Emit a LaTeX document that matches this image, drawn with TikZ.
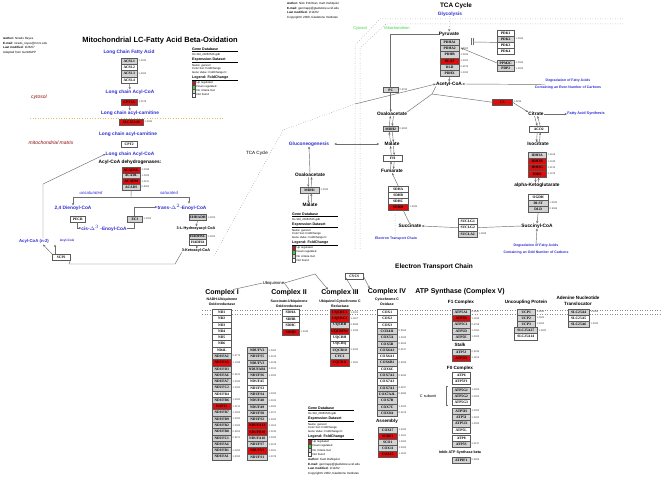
\documentclass[tikz,border=0pt]{standalone}
\usepackage{fontspec}
\setmainfont{Liberation Sans}
\newfontfamily\genefont{Liberation Serif}
\usetikzlibrary{arrows.meta}
\definecolor{myblue}{RGB}{45,45,210}
\definecolor{mydred}{RGB}{140,10,10}
\definecolor{mygreen}{RGB}{60,210,60}
\definecolor{fillr}{RGB}{222,12,12}
\definecolor{fillg}{RGB}{210,210,210}
\definecolor{fillw}{RGB}{255,255,255}
\definecolor{lincol}{RGB}{110,110,110}
\definecolor{dotorange}{RGB}{240,180,100}
\tikzset{
  lbl/.style={inner sep=0pt, font=\bfseries\fontsize{4.8}{5.5}\selectfont},
  blbl/.style={lbl, text=myblue},
  slbl/.style={inner sep=0pt, font=\bfseries\fontsize{3.5}{4.6}\selectfont, align=center},
  gene/.style={draw=black!65, line width=0.4pt, inner sep=0pt, font=\genefont\bfseries\fontsize{3.6}{4}\selectfont},
  val/.style={inner sep=0pt, anchor=west, font=\fontsize{2.5}{3}\selectfont, text=black!75},
  arr/.style={draw=lincol, line width=0.45pt, -{Stealth[length=2.6pt,width=2.2pt]}},
  darr/.style={draw=lincol, line width=0.45pt, {Stealth[length=2.6pt,width=2.2pt]}-{Stealth[length=2.6pt,width=2.2pt]}},
  ln/.style={draw=lincol, line width=0.45pt},
  dotln/.style={draw=black!45, line width=0.5pt, dotted},
  ttl/.style={inner sep=0pt, font=\bfseries\fontsize{7}{8}\selectfont},
  sttl/.style={inner sep=0pt, font=\bfseries\fontsize{4.6}{5}\selectfont},
  auth/.style={inner sep=0pt, anchor=north west, align=left, font=\fontsize{3}{4.4}\selectfont},
  leg/.style={inner sep=0pt, anchor=west, font=\fontsize{2.8}{3}\selectfont},
  legb/.style={inner sep=0pt, anchor=west, font=\bfseries\fontsize{3.6}{4}\selectfont},
  comp/.style={lbl, text=mydred, font=\itshape\fontsize{5}{6}\selectfont},
}
\newcommand\gstack[6]{%
  \foreach \gn/\gf/\gv [count=\gi] in {#6}{%
    \node[gene, fill=fill\gf, minimum width=#4pt, minimum height=#5pt, anchor=north west]
      (#1-\gn) at (#2, {#3+(\gi-1)*#5}) {\gn};
    \node[val] (#1-v\gi) at ({#2+#4+1.5}, {#3+(\gi-0.5)*#5}) {\gv};
  }}
\newcommand\legendblock[3]{%
 \begin{scope}[shift={(#2,#3)}]
  \node[legb] (#1-gd) at (0,0) {Gene Database};
  \draw[line width=0.5pt] (0,2.3) -- (46,2.3);
  \node[leg] (#1-db) at (0,5.5) {Hs-Std\_20060526.gdb};
  \node[legb] (#1-ed) at (0,11) {Expression Dataset};
  \draw[line width=0.5pt] (0,13.3) -- (46,13.3);
  \node[leg] (#1-n) at (0,16.5) {Name: genes3};
  \node[leg] (#1-cs) at (0,20) {Color Set: FoldChange};
  \node[leg] (#1-gv) at (0,23.5) {Gene Value: FoldChange fc};
  \node[legb] (#1-lg) at (0,29) {Legend: FoldChange};
  \draw[line width=0.5pt] (0,31.3) -- (46,31.3);
  \foreach \c/\t [count=\k] in {fillr/Up regulated, mygreen/Down regulated, fillg/No criteria met, white/Not found}{
    \node[draw=black!70, line width=0.3pt, fill=\c, minimum width=3.5pt, minimum height=3.5pt, inner sep=0pt] (#1-s\k) at (1.8, {30+4*\k}) {};
    \node[leg] (#1-t\k) at (4.5, {30+4*\k}) {\t};
  }
 \end{scope}}
\begin{document}
\begin{tikzpicture}[x=1pt,y=-1pt]
\useasboundingbox[fill=white] (0,0) rectangle (661,481);

% ---------------- authors and legends
\node[auth] (au1) at (3,37.5) {\textbf{Author:} Nirado Reyes\\\textbf{E-mail:} nirado\_reyes@nmrc.edu\\\textbf{Last modified:} 9/26/07\\Adapted from GenMAPP};
\node[auth] (au2) at (287,2.5) {\textbf{Author:} Nick Pohlman, Kam Dahlquist\\\textbf{E-mail:} genmapp@gladstone.ucsf.edu\\\textbf{Last modified:} 2/14/02\\Copyright\textcopyright{} 2000, Gladstone Institutes};
\node[auth] (au3) at (308,458.5) {\textbf{Author:} Kam Dahlquist\\\textbf{E-mail:} genmapp@gladstone.ucsf.edu\\\textbf{Last modified:} 2/14/02\\Copyright\textcopyright{} 2002, Gladstone Institutes};
\legendblock{lg1}{192}{49}
\legendblock{lg2}{292}{214}
\legendblock{lg3}{308}{408}

% ---------------- beta oxidation
\node[ttl, font=\bfseries\fontsize{7.5}{8}\selectfont] (t1) at (160,41) {Mitochondrial LC-Fatty Acid Beta-Oxidation};
\node[blbl] (lcfa) at (129,52) {Long Chain Fatty Acid};
\gstack{acsl}{121}{58}{16}{6.25}{ACSL1/g/1.0020, ACSL2/w/{}, ACSL3/g/1.0000, ACSL4/w/{}}
\node[blbl] (lcac1) at (130,92) {Long chain Acyl-CoA};
\draw[arr] (acsl-ACSL4.south) -- (lcac1.north);
\node[comp] (cyto) at (39,97) {cytosol};
\gstack{cpt1}{121}{99}{16}{5.6}{CPT1A/r/1.0078}
\node[blbl] (lcar1) at (130,113) {Long chain acyl-carnitine};
\draw[arr] (cpt1-CPT1A.south) -- (lcar1.north);
\draw[draw=dotorange, line width=0.6pt, dotted] (30,118) -- (225,118);
\gstack{slc}{119}{119}{24}{5.6}{SLC25A20/r/1.0094}
\node[blbl] (lcar2) at (128,134) {Long chain acyl-carnitine};
\node[comp] (mmx) at (51,143) {mitochondrial matrix};
\gstack{cpt2}{121}{141}{16}{5.6}{CPT2/w/{}}
\node[blbl] (lcac2) at (130,154) {Long chain Acyl-CoA};
\node[lbl] (acd) at (130,162) {Acyl-CoA dehydrogenases:};
\gstack{acad}{122}{167}{18}{5.75}{ACADVL/r/1.0088, ACADL/g/1.0000, ACADM/r/1.0221, ACADS/g/0.9954}
\node[inner sep=0pt, text=myblue, font=\itshape\fontsize{4.3}{5}\selectfont] (unsat) at (91,193) {unsaturated};
\node[inner sep=0pt, text=myblue, font=\itshape\fontsize{4.3}{5}\selectfont] (sat) at (169,193) {saturated};
\node[blbl] (dien) at (73,208) {2,4 Dienoyl-CoA};
\node[blbl] (trans) at (182,207) {trans-$\Delta^2$-Enoyl-CoA};
\coordinate (sp1) at (131,197);
\draw[ln] (acad-ACADS.south) -- (sp1);
\draw[arr] (sp1) -| (dien.north);
\draw[arr] (sp1) -| ([xshift=7pt]trans.north);
\gstack{pecr}{70}{216}{15}{5.6}{PECR/w/{}}
\node[blbl] (cis) at (104,228) {cis-$\Delta^3$ -Enoyl-CoA};
\gstack{eci}{127}{216}{15}{5.6}{ECI/g/1.0000}
\draw[arr] (pecr-PECR.south) |- (cis.west);
\draw[ln] (cis.east) -| (eci-ECI.south);
\draw[arr] (eci-ECI.north) |- (trans.west);
\gstack{ehh}{189}{214.5}{17}{5.6}{EHHADH/g/1.0000}
\node[lbl, font=\bfseries\fontsize{3.8}{4}\selectfont] (hyd) at (196,228.5) {3-L-Hydroxyacyl-CoA};
\draw[arr] (ehh-EHHADH.south) -- (hyd.north);
\gstack{hadh}{189}{233.5}{17}{5.6}{HADHSC/g/1.0000, HADHA/w/{}}
\node[lbl, font=\bfseries\fontsize{3.8}{4}\selectfont] (keto) at (196,250.5) {3-Ketoacyl-CoA};
\draw[arr] (hadh-HADHA.south) -- (keto.north);
\gstack{scp}{52}{254}{18}{6}{SCP2/w/{}}
\node[blbl, font=\bfseries\fontsize{4.3}{5}\selectfont] (an2) at (34,241) {Acyl-CoA (n-2)};
\node[blbl, font=\bfseries\fontsize{3.2}{4}\selectfont] (acoa) at (67,241) {Acyl-CoA};
\coordinate (kk1) at (175,264);
\coordinate (kk2) at (69,264);
\draw[ln] (keto.south west) -- (kk1) -- (kk2) -- (scp-SCP2.south east);
\coordinate (an2t) at (43,244.5);
\coordinate (acoat) at (55,244.5);
\draw[arr] (scp-SCP2.north west) -- (an2t);
\draw[arr] ([xshift=3pt]scp-SCP2.north west) -- (acoat);
\coordinate (an2u) at (43,238);
\coordinate (an2c) at (43,184);
\draw[arr] (an2u) -- (an2c) -- (lcac2.west);
\coordinate (tp1) at (214,256);
\coordinate (tp2) at (283,130);
\coordinate (tp3) at (355,104);
\draw[dotln] (tp1) -- (tp2) -- (tp3);
\node[inner sep=0pt, font=\fontsize{4.6}{5}\selectfont] (tcal) at (257,153) {TCA Cycle};

% ---------------- mitochondrion boundary
\draw[dotln] (623,19) -- (380,19) -- (355,45) -- (355,250);
\draw[dotln] (623,24) -- (386,24) -- (360,48) -- (360,250);
\node[inner sep=0pt, text=mygreen, font=\fontsize{4}{5}\selectfont] (cytl) at (360,28) {Cytosol};
\node[inner sep=0pt, text=mygreen, font=\fontsize{4}{5}\selectfont] (mitl) at (397,28) {Mitochondrion};

% ---------------- TCA
\node[ttl, font=\bfseries\fontsize{6.4}{7}\selectfont] (tca) at (456,6) {TCA Cycle};
\node[blbl] (gly) at (450,14) {Glycolysis};
\node[lbl] (pyr) at (449,34) {Pyruvate};
\draw[arr, dotted] (gly) -- (pyr);
\gstack{pdh}{440}{39}{19}{6.2}{PDHA1/g/{}, PDHA2/g/1.0000, PDHB/g/1.0000, DLAT/r/1.0001, DLD/g/0.9976, PDHX/g/1.0000}
\node[lbl] (acc) at (449,84) {Acetyl-CoA};
\draw[arr] (pdh-PDHX.south) -- (acc.north);
\draw[arr] (tp3) -- (acc.west);
\gstack{pdk}{497}{30}{17}{6}{PDK1/w/{}, PDK2/g/1.0000, PDK3/w/{}, PDK4/w/{}}
\gstack{pdp}{497}{60}{17}{5.5}{PPM2C/g/1.0000, PDP2/g/1.0000}
\coordinate (bar1) at (473,42);
\draw[ln] (pdk-PDK2.south west) -- (bar1);
\draw[ln] (471,38.5) -- (471,45.5) (473,38.5) -- (473,45.5);
\coordinate (pdpt) at (461,48);
\draw[arr] (pdp-PPM2C.west) -- (pdpt);
\node[blbl, font=\bfseries\fontsize{3.5}{7}\selectfont, align=center] (even) at (568,84.5) {Degradation of Fatty Acids\\Containing an Even Number of Carbons};
\coordinate (evenl) at (545,84.5);
\draw[arr] (evenl) -- (acc.east);
\gstack{cs}{492}{99}{20}{6}{CS/r/1.0296}
\node[lbl] (oaa) at (392,114) {Oxaloacetate};
\node[lbl] (cit) at (536,114) {Citrate};
\coordinate (j1) at (432,94);
\draw[ln] (oaa.north east) -- (j1) -- (cs-CS.west);
\draw[ln] (acc.south west) -- (j1);
\draw[arr] (cs-CS.east) -- (cit.north west);
\node[blbl, font=\bfseries\fontsize{3.8}{4}\selectfont] (fas) at (586,114) {Fatty Acid Synthesis};
\draw[arr] (cit.east) -- (fas.west);
\gstack{aco}{529}{126}{19}{6}{ACO2/w/{}}
\draw[arr] ([xshift=-1.5pt]cit.south) -- ([xshift=-1.5pt]aco-ACO2.north);
\draw[arr] ([xshift=1.5pt]aco-ACO2.north) -- ([xshift=1.5pt]cit.south);
\node[lbl] (iso) at (538,144) {Isocitrate};
\draw[arr] ([xshift=-1.5pt]aco-ACO2.south) -- ([xshift=-1.5pt]iso.north);
\draw[arr] ([xshift=1.5pt]iso.north) -- ([xshift=1.5pt]aco-ACO2.south);
\gstack{idh}{528}{152}{18}{6.25}{IDH3A/g/1.0016, IDH3B/r/1.1349, IDH3G/r/1.0132, IDH2/r/1.1076}
\node[lbl] (akg) at (537,185) {alpha-Ketoglutarate};
\draw[arr] ([xshift=-1.5pt]idh-IDH2.south) -- ([xshift=-1.5pt]akg.north);
\draw[arr] ([xshift=1.5pt]akg.north) -- ([xshift=1.5pt]idh-IDH2.south);
\gstack{ogd}{528}{194}{20}{6}{OGDH/w/{}, DLST/g/1.0000, DLD/g/0.9966}
\node[lbl] (succoa) at (537,226) {Succinyl-CoA};
\draw[arr] (ogd-DLD.south) -- (succoa.north);
\node[blbl, font=\bfseries\fontsize{3.5}{7}\selectfont, align=center] (odd) at (536,249.5) {Degradation of Fatty Acids\\Containing an Odd Number of Carbons};
\draw[arr] (odd.north) -- (succoa.south);
\gstack{suc}{458}{218}{19}{6.3}{SUCLG1/w/{}, SUCLG2/w/{}, SUCLA2/g/1.0008}
\node[lbl] (succ) at (410,226) {Succinate};
\draw[ln] (succoa.west) -- (suc-SUCLG2.east);
\draw[arr] (suc-SUCLG2.west) -- (succ.east);
\gstack{sdh}{388}{186}{20}{6}{SDHA/w/{}, SDHB/w/{}, SDHC/w/{}, SDHD/r/1.0045}
\node[lbl] (fum) at (392,171) {Fumarate};
\draw[ln] (succ.north) -- ([xshift=5pt]sdh-SDHD.south);
\draw[arr] (sdh-SDHA.north) -- (fum.south);
\node[blbl, font=\bfseries\fontsize{3.5}{4}\selectfont] (etcl) at (396,239) {Electron Transport Chain};
\draw[dotln] ([xshift=-3pt]sdh-SDHD.south) -- ([xshift=-1pt]etcl.north);
\gstack{fh}{383}{155}{19}{6}{FH/w/{}}
\node[lbl] (mal) at (392,144) {Malate};
\draw[arr] ([xshift=-1.5pt]fum.north) -- ([xshift=-1.5pt]fh-FH.south);
\draw[arr] ([xshift=1.5pt]fh-FH.south) -- ([xshift=1.5pt]fum.north);
\draw[arr] ([xshift=-1.5pt]fh-FH.north) -- ([xshift=-1.5pt]mal.south);
\draw[arr] ([xshift=1.5pt]mal.south) -- ([xshift=1.5pt]fh-FH.north);
\gstack{mdh}{383}{126}{15}{5.5}{MDH2/g/0.9990}
\draw[arr] ([xshift=-1.5pt]mal.north) -- ([xshift=-1.5pt]mdh-MDH2.south);
\draw[arr] ([xshift=1.5pt]mdh-MDH2.south) -- ([xshift=1.5pt]mal.north);
\draw[arr] ([xshift=-1.5pt]mdh-MDH2.north) -- ([xshift=-1.5pt]oaa.south);
\draw[arr] ([xshift=1.5pt]oaa.south) -- ([xshift=1.5pt]mdh-MDH2.north);
\gstack{pc}{383}{87}{15}{5.5}{PC/g/0.9766}
\draw[ln] (pyr.west) -| (pc-PC.north);
\draw[arr] (pc-PC.south) -- (oaa.north -| pc-PC.south);
\node[blbl] (gng) at (309,144) {Gluconeogenesis};
\draw[darr] ([xshift=-5pt]mal.west) -- ([xshift=5pt]gng.east);
\node[lbl] (oaa2) at (310,175) {Oxaloacetate};
\draw[arr] (oaa2.north) -- (gng.south);
\gstack{mdh1}{300}{187}{19}{6}{MDH1/g/1.0000}
\node[lbl] (mal2) at (310,205) {Malate};
\draw[arr] ([xshift=-1.5pt]oaa2.south) -- ([xshift=-1.5pt]mdh1-MDH1.north);
\draw[arr] ([xshift=1.5pt]mdh1-MDH1.north) -- ([xshift=1.5pt]oaa2.south);
\draw[arr] ([xshift=-1.5pt]mdh1-MDH1.south) -- ([xshift=-1.5pt]mal2.north);
\draw[arr] ([xshift=1.5pt]mal2.north) -- ([xshift=1.5pt]mdh1-MDH1.south);

% ---------------- electron transport chain
\node[ttl, font=\bfseries\fontsize{6.5}{7}\selectfont] (etc) at (434,267) {Electron Transport Chain};
\draw[dotln] (202,310) -- (661,310);
\draw[dotln] (202,314) -- (661,314);
\gstack{cyc}{345}{273}{18}{6}{CYCS/w/{}}
\node[inner sep=0pt, font=\fontsize{4.2}{5}\selectfont] (ubq) at (273.5,283) {Ubiquinone};
\node[ttl] (c1) at (222,293) {Complex I};
\node[slbl] (c1s) at (222,301.5) {NADH-Ubiquinone\\Oxidoreductase};
\node[ttl] (c2) at (289,293) {Complex II};
\node[slbl] (c2s) at (289,303.5) {Succinate-Ubiquinone\\Oxidoreductase};
\node[ttl] (c3) at (340,293) {Complex III};
\node[slbl] (c3s) at (340,303.5) {Ubiquinol-Cytochrome C\\Reductase};
\node[ttl] (c4) at (387,292) {Complex IV};
\node[slbl] (c4s) at (387,301.5) {Cytochrome C\\Oxidase};
\node[ttl] (c5) at (460,292) {ATP Synthase (Complex V)};
\node[sttl] (f1) at (461,302) {F1 Complex};
\node[sttl] (ucp) at (526,302) {Uncoupling Protein};
\node[sttl, align=center, font=\bfseries\fontsize{4.6}{6}\selectfont] (ant) at (578,301) {Adenine Nucleotide\\Translocator};
\draw[ln] ([xshift=-6pt]c1.north east) -- (ubq.west);
\draw[ln] (c2.north) -- (ubq.east);
\coordinate (uq1) at (315,274);
\draw[arr] (ubq.east) -- (uq1) -- ([xshift=-12pt]c3.north);
\draw[ln] ([xshift=-6pt]c3.north east) -- (cyc-CYCS.west);
\draw[arr] (cyc-CYCS.east) -- ([xshift=2pt]c4.north west);

\gstack{c1a}{212}{309}{19}{6.28}{ND1/w/{}, ND2/w/{}, ND3/w/{}, ND4/w/{}, ND5/w/{}, ND6/w/{}, ND4L/w/{}, NDUFA2/g/0.9772, NDUFA3/r/1.1008, NDUFB3/g/{}, NDUFA6/g/0.9870, NDUFA7/g/1.0000, NDUFC2/g/1.0000, NDUFB4/w/{}, NDUFB6/g/1.0000, DAP13/r/1.0211, NDUFB7/g/1.0000, NDUFB9/g/1.0000, NDUFB2/g/1.0000, NDUFB8/g/0.9952, NDUFC1/g/0.9871, NDUFA4/g/{}, NDUFB1/g/1.0000, NDUFA1/g/1.0000}
\gstack{c1b}{247}{347}{20}{6.28}{NDUFV2/g/1.0000, NDUFS5/g/1.0012, NDUFV3/g/1.0018, NDUFAB1/g/1.0012, NDUFS6/g/1.0000, NDUFA5/w/{}, NDUFS3/w/{}, NDUFS4/g/1.0000, NDUFA8/g/1.0023, NDUFA9/g/1.0000, NDUFS8/g/1.0071, NDUFS2/g/1.0000, NDUFA13/r/1.1163, NDUFB10/r/1.0233, NDUFA10/g/1.0000, NDUFS7/g/1.0153, NDUFV1/r/1.0001, NDUFS1/g/1.0076}
\gstack{c2g}{282}{309}{17}{6.5}{SDHA/w/{}, SDHB/w/{}, SDHC/w/{}, SDHD/r/1.0045}
\gstack{c3g}{330}{309}{19}{6.3}{UQCRC1/r/1.0021, UQCRC2/r/1.1187, UQCRB/g/0.9968, UQCRFS1/r/1.1069, UQCRH/w/{}, UQCRQ/w/{}, UQCR10/g/1.0000, CYC1/g/{}, UQCR11/r/1.1661}
\gstack{c4g}{377}{309}{20}{6.3}{COX1/w/{}, COX2/w/{}, COX3/w/{}, COX4I1/g/0.9566, COX5A/g/1.0000, COX5B/g/0.9926, COX6A2/g/0.9917, COX6A1/w/{}, COX6B1/g/0.9969, COX6C/w/{}, COX7A2/g/0.9994, COX7A3/w/{}, COX7A1/g/0.9927, COX7A2L/g/0.9986, COX7B/g/{}, COX7C/g/1.0000, COX8A/g/0.9976}
\node[sttl] (asm) at (387,421) {Assembly};
\gstack{asg}{378}{427}{19}{6}{COX17/g/1.0000, SURF1/r/1.1461, SCO1/g/1.0000, COX11/g/1.0000, COX15/r/1.1622}
\gstack{f1g}{452}{309}{18}{6.2}{ATP5A1/g/0.9541, ATP5B/r/1.1363, ATP5C1/g/0.9758, ATP5D/g/1.0000, ATP5E/g/1.0000}
\node[sttl] (stalk) at (460,345) {Stalk};
\gstack{stg}{452}{349}{18}{6}{ATP5J/g/0.9939, ATP5O/r/1.1156}
\node[sttl] (f0) at (460,368) {F0 Complex};
\gstack{f0g}{452}{372}{18}{6}{ATP6/w/{}, ATP5F1/w/{}}
\node[inner sep=0pt, font=\fontsize{3.8}{4}\selectfont] (csub) at (428,396) {C subunit};
\draw[ln] (448,386.5) -- (446.5,386.5) -- (446.5,405.5) -- (448,405.5);
\gstack{cg}{452}{387}{18}{6.1}{ATP5G1/g/1.0000, ATP5G2/g/1.0000, ATP5G3/w/{}}
\gstack{hg}{452}{408}{18}{6.2}{ATP5H/g/1.0000, ATP5I/g/1.0000, ATP5J2/g/1.0000, ATP5L/w/{}}
\gstack{sg}{452}{435}{18}{6}{ATP8/w/{}, ATP5S/g/1.0217}
\node[sttl, font=\bfseries\fontsize{3.6}{4}\selectfont] (inh) at (460,453) {Inhib ATP Synthase beta};
\gstack{ig}{452}{457}{18}{6}{ATPIF1/g/0.9983}
\gstack{ucg}{517}{309}{18}{6}{UCP1/g/1.0000, UCP2/g/1.0000, UCP3/g/1.0000}
\gstack{slg}{514}{327}{23}{6.3}{SLC25A27/g/1.0000, SLC25A14/w/{}}
\gstack{ang}{568}{309}{21}{6}{SLC25A4/g/1.0000, SLC25A5/w/{}, SLC25A6/g/1.0000}
\end{tikzpicture}
\end{document}
